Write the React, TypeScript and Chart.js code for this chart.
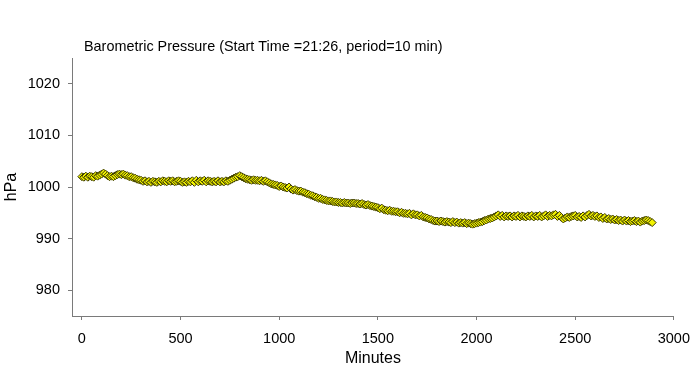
import React, { useEffect, useRef } from "react";
import { Chart, registerables } from "chart.js";

Chart.register(...registerables);

const TITLE = "Barometric Pressure (Start Time =21:26, period=10 min)";
const PERIOD_MIN = 10;
const X_TICKS = [0, 500, 1000, 1500, 2000, 2500, 3000];
const Y_TICKS = [980, 990, 1000, 1010, 1020];

// hPa readings, one every 10 minutes (rows of 100 minutes)
const pressure: number[] = [
  1002.0, 1001.9, 1002.1, 1001.9, 1002.1, 1002.0, 1001.9, 1002.2, 1002.1, 1002.3,
  1002.5, 1002.7, 1002.5, 1002.2, 1002.0, 1002.1, 1002.0, 1002.2, 1002.4, 1002.5,
  1002.4, 1002.5, 1002.3, 1002.2, 1002.0, 1002.0, 1001.8, 1001.7, 1001.5, 1001.4,
  1001.3, 1001.1, 1001.2, 1001.0, 1001.1, 1000.9, 1001.1, 1001.0, 1000.9, 1001.1,
  1001.0, 1001.2, 1001.1, 1001.0, 1001.2, 1001.1, 1001.2, 1001.0, 1001.1, 1001.2,
  1001.1, 1000.9, 1001.0, 1000.9, 1001.1, 1001.0, 1001.2, 1000.9, 1001.3, 1001.0,
  1001.2, 1001.1, 1001.3, 1001.0, 1001.2, 1001.1, 1001.0, 1001.1, 1001.0, 1001.2,
  1001.0, 1001.1, 1001.0, 1001.2, 1001.1, 1001.3, 1001.5, 1001.7, 1001.9, 1002.0,
  1002.2, 1002.0, 1001.8, 1001.6, 1001.5, 1001.4, 1001.3, 1001.4, 1001.3, 1001.3,
  1001.2, 1001.3, 1001.1, 1001.2, 1001.0, 1000.8, 1000.6, 1000.5, 1000.4, 1000.3,
  1000.1, 1000.2, 1000.0, 999.9, 999.8, 1000.0, 999.6, 999.4, 999.5, 999.3,
  999.2, 999.2, 999.0, 998.9, 998.7, 998.6, 998.4, 998.3, 998.1, 998.0,
  997.8, 997.8, 997.6, 997.5, 997.4, 997.3, 997.3, 997.2, 997.1, 997.1,
  997.0, 997.0, 996.9, 997.0, 996.9, 996.9, 996.8, 996.9, 996.9, 996.8,
  996.8, 996.7, 996.8, 996.6, 996.5, 996.6, 996.4, 996.3, 996.2, 996.1,
  996.0, 995.8, 995.9, 995.6, 995.5, 995.4, 995.5, 995.3, 995.3, 995.2,
  995.2, 995.0, 995.1, 994.9, 994.9, 994.8, 994.9, 994.6, 994.8, 994.6,
  994.6, 994.4, 994.5, 994.2, 994.1, 994.0, 993.8, 993.7, 993.5, 993.4,
  993.4, 993.3, 993.4, 993.3, 993.2, 993.3, 993.2, 993.1, 993.3, 993.1,
  993.2, 993.0, 993.1, 993.0, 993.1, 992.9, 993.0, 992.9, 992.8, 992.9,
  993.0, 993.1, 993.2, 993.3, 993.5, 993.6, 993.8, 993.9, 994.0, 994.2,
  994.4, 994.6, 994.3, 994.5, 994.2, 994.4, 994.3, 994.4, 994.2, 994.4,
  994.3, 994.5, 994.2, 994.4, 994.3, 994.2, 994.4, 994.3, 994.5, 994.2,
  994.4, 994.3, 994.5, 994.2, 994.4, 994.6, 994.3, 994.5, 994.4, 994.6,
  994.7, 994.3, 994.5, 994.1, 993.8, 994.0, 994.2, 994.1, 994.3, 994.4,
  994.5, 994.2, 994.3, 994.1, 994.4, 994.2, 994.5, 994.7, 994.4, 994.5,
  994.3, 994.4, 994.1, 994.2, 993.9, 994.1, 993.8, 993.9, 993.7, 993.8,
  993.6, 993.7, 993.5, 993.6, 993.4, 993.6, 993.4, 993.5, 993.3, 993.4,
  993.5, 993.3, 993.4, 993.2, 993.4, 993.5, 993.6, 993.5, 993.3, 993.1,
];

const FONT = "Arial, 'Liberation Sans', sans-serif";
const AXIS_COLOR = "#7a7a7a";

const titlePlugin = {
  id: "leftTitle",
  afterDraw(chart: any) {
    const ctx = chart.ctx;
    ctx.save();
    ctx.font = `14.4px ${FONT}`;
    ctx.fillStyle = "#000";
    ctx.textAlign = "left";
    ctx.textBaseline = "middle";
    ctx.fillText(TITLE, chart.chartArea.left + 12, 47);
    ctx.restore();
  },
};

export default function App() {
  const ref = useRef<HTMLCanvasElement | null>(null);

  useEffect(() => {
    if (!ref.current) return;
    const points = pressure.map((v, i) => ({ x: i * PERIOD_MIN, y: v }));
    const chart = new Chart(ref.current, {
      type: "scatter",
      data: {
        datasets: [
          {
            data: points,
            pointStyle: "rectRot",
            pointRadius: 4,
            pointBorderWidth: 1,
            backgroundColor: "#f2f200",
            borderColor: "#3a3a00",
            showLine: false,
          },
        ],
      },
      plugins: [titlePlugin],
      options: {
        animation: false,
        responsive: false,
        events: [],
        layout: { padding: { top: 58, right: 19, left: 0, bottom: 0 } },
        plugins: {
          legend: { display: false },
          title: { display: false },
          tooltip: { enabled: false },
        },
        scales: {
          x: {
            type: "linear",
            min: -50,
            max: 3000,
            afterBuildTicks: (axis: any) => {
              axis.ticks = X_TICKS.map((v) => ({ value: v }));
            },
            afterFit: (axis: any) => {
              axis.height = 57;
            },
            grid: {
              drawOnChartArea: false,
              drawTicks: true,
              tickLength: 4,
              color: AXIS_COLOR,
            },
            border: { display: true, color: AXIS_COLOR, width: 1 },
            ticks: {
              autoSkip: false,
              maxRotation: 0,
              padding: 10,
              color: "#000",
              font: { family: FONT, size: 14.5 },
              callback: (v: any) => String(v),
            },
            title: {
              display: true,
              text: "Minutes",
              color: "#000",
              font: { family: FONT, size: 16 },
              padding: { top: 0, bottom: 5 },
            },
          },
          y: {
            type: "linear",
            min: 975,
            max: 1025,
            afterBuildTicks: (axis: any) => {
              axis.ticks = Y_TICKS.map((v) => ({ value: v }));
            },
            afterFit: (axis: any) => {
              axis.width = 72;
            },
            grid: {
              drawOnChartArea: false,
              drawTicks: true,
              tickLength: 4,
              color: AXIS_COLOR,
            },
            border: { display: true, color: AXIS_COLOR, width: 1 },
            ticks: {
              autoSkip: false,
              padding: 8,
              color: "#000",
              font: { family: FONT, size: 14.5 },
              callback: (v: any) => String(v),
            },
            title: {
              display: true,
              text: "hPa",
              color: "#000",
              font: { family: FONT, size: 16 },
              padding: { top: 2, bottom: 0 },
            },
          },
        },
      },
    } as any);
    return () => chart.destroy();
  }, []);

  return (
    <div
      style={{
        position: "fixed",
        left: 0,
        top: 0,
        width: 700,
        height: 373,
        background: "#fff",
      }}
    >
      <canvas ref={ref} width={700} height={373} style={{ display: "block" }} />
    </div>
  );
}
